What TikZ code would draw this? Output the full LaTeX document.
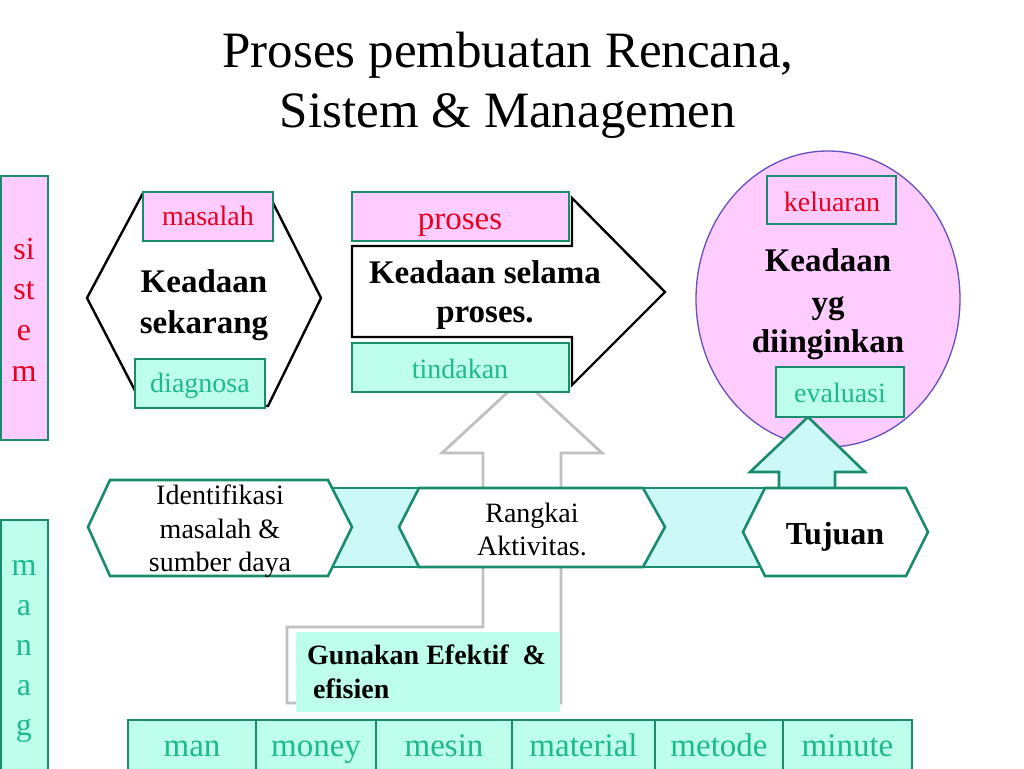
\documentclass[tikz,border=0pt]{standalone}
\usepackage{fontspec}
\setmainfont{Liberation Serif}
\definecolor{tealline}{RGB}{26,140,110}
\definecolor{pinkfill}{RGB}{255,204,255}
\definecolor{mintfill}{RGB}{190,255,235}
\definecolor{cyanfill}{RGB}{204,248,248}
\definecolor{redtext}{RGB}{232,0,30}
\definecolor{tealtext}{RGB}{30,185,140}
\definecolor{purpleline}{RGB}{100,80,190}
\definecolor{greyline}{RGB}{192,192,192}
\newcommand\fsz[2]{\fontsize{#1}{#2}\selectfont}
\begin{document}
\begin{tikzpicture}[x=1pt,y=-1pt,
  txt/.style={inner sep=0pt, anchor=base},
  tealedge/.style={draw=tealline, line width=2.6pt, line join=miter},
  blackedge/.style={draw=black, line width=2.4pt, line join=miter},
  pinkbox/.style={tealedge, fill=pinkfill},
  mintbox/.style={tealedge, fill=mintfill},
  redlbl/.style={txt, text=redtext, font=\fsz{28}{33}},
  teallbl/.style={txt, text=tealtext, font=\fsz{28}{33}},
  boldlbl/.style={txt, font=\fsz{33}{40}\bfseries},
  plainlbl/.style={txt, font=\fsz{28}{33}},
  sidelbl/.style={txt, font=\fsz{32}{40}},
  celllbl/.style={txt, text=tealtext, font=\fsz{33}{40}}]
\useasboundingbox (0,0) rectangle (1024,768);
\fill[white] (0,0) rectangle (1024,768);
\clip (0,0) rectangle (1024,768);

% title
\node[txt, font=\fsz{51}{60}] (t1) at (508,67) {Proses pembuatan Rencana,};
\node[txt, font=\fsz{51}{60}] (t2) at (508,127) {Sistem \& Managemen};

% sistem side box
\draw[pinkbox] (1,176) rectangle (48,440);
\foreach \s [count=\i from 0] in {si,st,e,m}
  \node[sidelbl, text=redtext] (sis\i) at (24,259+40.7*\i) {\s};

% manag side box
\draw[mintbox] (1,520) rectangle (48,772);
\foreach \s [count=\i from 0] in {m,a,n,a,g}
  \node[sidelbl, text=tealtext] (man\i) at (24,575+40*\i) {\s};

% Keadaan sekarang hexagon
\draw[blackedge, fill=white] (87,298) -- (143,193) -- (268,193) -- (321,298) -- (268,406) -- (143,406) -- cycle;
\node[boldlbl] (ks1) at (204,292) {Keadaan};
\node[boldlbl] (ks2) at (204,333) {sekarang};
\draw[pinkbox] (143,192) rectangle (273,241);
\node[redlbl] (masalah) at (208,225) {masalah};
\draw[mintbox] (135,359) rectangle (265,408);
\node[teallbl] (diagnosa) at (200,392) {diagnosa};

% grey bent arrow
\draw[draw=greyline, line width=2.8pt, fill=white, line join=miter]
  (287,703) -- (287,627) -- (483,627) -- (483,453) -- (442,453) -- (522,379)
  -- (602,453) -- (561,453) -- (561,703) -- cycle;

% Keadaan selama proses block arrow
\draw[blackedge, fill=white] (352,246) -- (572,246) -- (572,198) -- (665,292)
  -- (572,385) -- (572,337) -- (352,337) -- cycle;
\node[boldlbl] (kp1) at (485,283) {Keadaan selama};
\node[boldlbl] (kp2) at (485,322) {proses.};
\draw[pinkbox] (352,192) rectangle (569,241);
\node[txt, text=redtext, font=\fsz{33}{40}] (proses) at (460,229) {proses};
\draw[mintbox] (352,343) rectangle (569,392);
\node[teallbl] (tindakan) at (460,378) {tindakan};

% desired state ellipse
\draw[draw=purpleline, line width=1.3pt, fill=pinkfill] (828,299) ellipse [x radius=132pt, y radius=148pt];
\draw[pinkbox] (767,176) rectangle (896,224);
\node[redlbl] (keluaran) at (832,211) {keluaran};
\node[boldlbl] (kd1) at (828,271) {Keadaan};
\node[boldlbl] (kd2) at (828,313) {yg};
\node[boldlbl] (kd3) at (828,352) {diinginkan};

% teal up arrow
\draw[tealedge, fill=cyanfill] (779,489) -- (779,472) -- (750,472) -- (808,417)
  -- (865,472) -- (835,472) -- (835,489) -- cycle;
\draw[mintbox] (776,367) rectangle (904,417);
\node[teallbl] (evaluasi) at (840,402) {evaluasi};

% band
\draw[tealedge, fill=cyanfill] (330,488) rectangle (780,567);
\draw[tealedge, fill=white] (88,527) -- (110,480) -- (328,480) -- (352,527) -- (328,576) -- (110,576) -- cycle;
\node[plainlbl] (id1) at (220,504) {Identifikasi};
\node[plainlbl] (id2) at (220,538) {masalah \&};
\node[plainlbl] (id3) at (220,571) {sumber daya};
\draw[tealedge, fill=white] (399,527) -- (419,488) -- (643,488) -- (665,527) -- (643,567) -- (419,567) -- cycle;
\node[plainlbl] (ra1) at (532,522) {Rangkai};
\node[plainlbl] (ra2) at (532,555) {Aktivitas.};
\draw[tealedge, fill=white] (743,532) -- (765,488) -- (906,488) -- (928,532) -- (906,576) -- (765,576) -- cycle;
\node[txt, font=\fsz{32}{38}\bfseries] (tujuan) at (835,544) {Tujuan};

% Gunakan box
\fill[mintfill] (296,632) rectangle (560,712);
\node[txt, anchor=base west, font=\fsz{28}{33}\bfseries] (gu1) at (307,664) {Gunakan Efektif\ \ \&};
\node[txt, anchor=base west, font=\fsz{28}{33}\bfseries] (gu2) at (313,698) {efisien};

% bottom resources row
\foreach \a/\b/\w [count=\i] in {128/256/man,256/376/money,376/512/mesin,512/655/material,655/783/metode,783/912/minute}{
  \draw[mintbox] (\a,720) rectangle (\b,775);
  \node[celllbl] (res\i) at ({(\a+\b)/2},756) {\w};
}
\end{tikzpicture}
\end{document}
